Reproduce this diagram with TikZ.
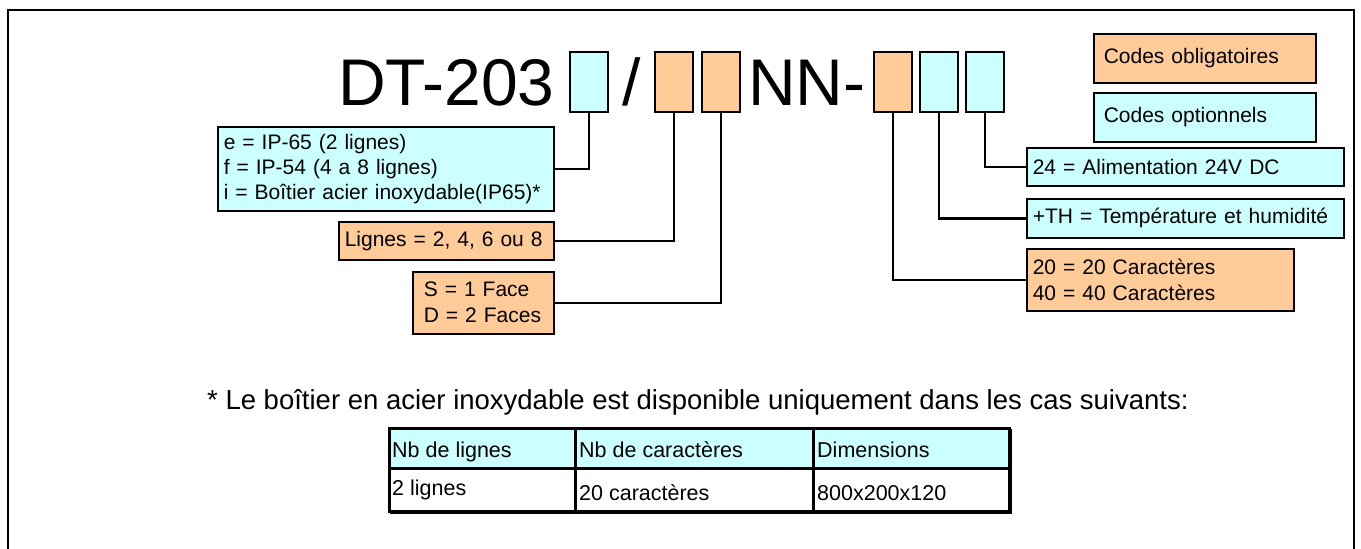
\documentclass[tikz,border=0pt]{standalone}
\usepackage{fontspec}
\setmainfont{Liberation Sans}
\definecolor{org}{HTML}{FFCC99}
\definecolor{cyn}{HTML}{CCFFFF}
\begin{document}
\begin{tikzpicture}[x=1pt,y=-1pt,
  box/.style={draw=black, line width=1.5pt, inner sep=0pt, anchor=north west},
  codebox/.style={box, minimum width=38pt, minimum height=60pt},
  lbl/.style={box, inner xsep=6pt, align=left, font=\fontsize{21}{25}\selectfont},
  conn/.style={line width=2.5pt},
  big/.style={font=\fontsize{66}{66}\selectfont, anchor=base west, inner sep=0pt},
  cell/.style={font=\fontsize{21.5}{24}\selectfont, anchor=base west, inner sep=0pt},
  tline/.style={line width=3pt}]
\useasboundingbox (0,0) rectangle (1361,549);
% frame
\draw[line width=2pt] (8,549) -- (8,10) -- (1354,10) -- (1354,549);
% code line
\node[big] (dt) at (338,105) {DT-203};
\node[codebox, fill=cyn] (b1) at (569,51) {};
\node[big] (sl) at (622,105) {/};
\node[codebox, fill=org] (b2) at (654,51) {};
\node[codebox, fill=org] (b3) at (701,51) {};
\node[big] (nn) at (748,105) {NN-};
\node[codebox, fill=org] (b4) at (873,51) {};
\node[codebox, fill=cyn] (b5) at (919,51) {};
\node[codebox, fill=cyn] (b6) at (965,51) {};
% legend
\node[lbl, fill=org, inner xsep=10pt, text width=202pt, minimum height=49pt] (lo) at (1093,33) {\mbox{Codes obligatoires}};
\node[lbl, fill=cyn, inner xsep=10pt, text width=202pt, minimum height=49pt] (lc) at (1093,92) {\mbox{Codes optionnels}};
% left labels
\node[lbl, fill=cyn, text width=324pt, minimum height=84pt] (efi) at (217,126)
  {\mbox{e = IP-65 (2 lignes)}\\ \mbox{f = IP-54 (4 a 8 lignes)}\\ \mbox{i = Boîtier acier inoxydable(IP65)*}};
\node[lbl, fill=org, text width=203pt, minimum height=38pt] (lig) at (338,221) {\mbox{Lignes = 2, 4, 6 ou 8}};
\node[lbl, fill=org, inner xsep=11pt, text width=119pt, minimum height=62pt, font=\fontsize{21}{26}\selectfont] (sd) at (412,271)
  {\mbox{S = 1 Face}\\ \mbox{D = 2 Faces}};
% right labels
\node[lbl, fill=cyn, text width=305pt, minimum height=38pt] (v24) at (1026,147) {\mbox{24 = Alimentation 24V DC}};
\node[lbl, fill=cyn, text width=305pt, minimum height=39pt] (th) at (1026,198) {\mbox{+TH = Température et humidité}};
\node[lbl, fill=org, text width=255pt, minimum height=62pt, font=\fontsize{21}{26}\selectfont] (c2040) at (1026,248)
  {\mbox{20 = 20 Caractères}\\ \mbox{40 = 40 Caractères}};
% connectors
\draw[conn] (b1.south) |- (efi.east);
\draw[conn] (b2.south) |- (lig.east);
\draw[conn] (b3.south) |- (sd.east);
\draw[conn] (b4.south) |- (c2040.west);
\draw[conn] (b5.south) |- (th.west);
\draw[conn] (b6.south) |- (v24.west);
% footnote
\node[font=\fontsize{27.5}{28}\selectfont, anchor=base west, inner sep=0pt] (fn) at (207,409)
  {* Le boîtier en acier inoxydable est disponible uniquement dans les cas suivants:};
% table
\fill[cyn] (389,428) rectangle (1009,468);
\draw[tline] (389,428) rectangle (1009,511);
\draw[tline] (389,468) -- (1009,468);
\draw[tline] (575,428) -- (575,511);
\draw[tline] (813,428) -- (813,511);
\draw[line width=2pt] (1011,429) -- (1011,513) -- (390,513);
\node[cell] (h1) at (392,457) {Nb de lignes};
\node[cell] (h2) at (579,457) {Nb de caractères};
\node[cell] (h3) at (817,457) {Dimensions};
\node[cell] (r1) at (392,495) {2 lignes};
\node[cell] (r2) at (579,500) {20 caractères};
\node[cell] (r3) at (817,500) {800x200x120};
\end{tikzpicture}
\end{document}
